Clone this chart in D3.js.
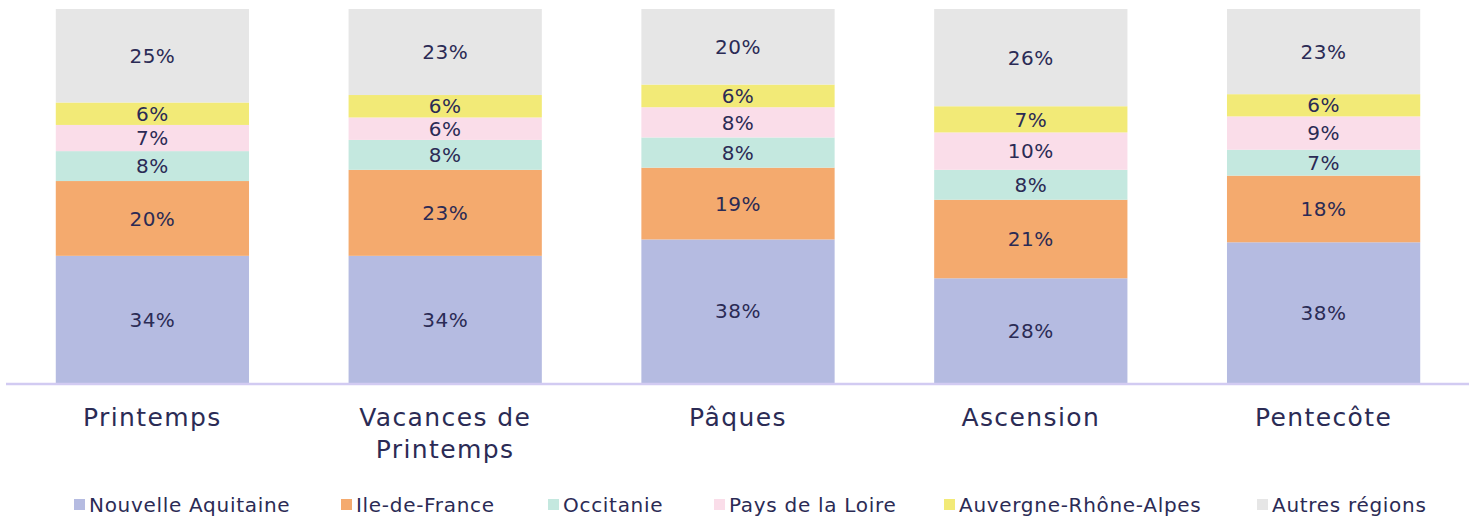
<!DOCTYPE html>
<html>
<head>
<meta charset="utf-8">
<script src="https://cdn.jsdelivr.net/npm/d3@7"></script>
<style>
  body { margin: 0; background: #fff; }
  text { font-family: "DejaVu Sans", sans-serif; fill: #2b2b55; }
</style>
</head>
<body>
<div id="chart"></div>
<script>
var periods = ["Printemps", "Vacances de Printemps", "Pâques", "Ascension", "Pentecôte"];
var regions = ["Nouvelle Aquitaine", "Ile-de-France", "Occitanie", "Pays de la Loire", "Auvergne-Rhône-Alpes", "Autres régions"];

var nouvelleAquitaine = [34, 34, 38, 28, 38],
    ileDeFrance       = [20, 23, 19, 21, 18],
    occitanie         = [8, 8, 8, 8, 7],
    paysDeLaLoire     = [7, 6, 8, 10, 9],
    auvergne          = [6, 6, 6, 7, 6],
    autres            = [25, 23, 20, 26, 23];

var series = [nouvelleAquitaine, ileDeFrance, occitanie, paysDeLaLoire, auvergne, autres];
var colors = ["#b5bbe1", "#f4aa6e", "#c4e8df", "#fadde9", "#f2ea77", "#e6e6e6"];

var width = 1477, height = 521;
var margin = {top: 9, bottom: 138, left: 6, right: 8};
var baseY = height - margin.bottom;

var svg = d3.select("#chart").append("svg")
    .attr("width", width)
    .attr("height", height);

/* build rows for the stack */
var rows = periods.map(function(p, i) {
    var r = {period: p};
    regions.forEach(function(reg, j) { r[reg] = series[j][i]; });
    return r;
});

var stack = d3.stack().keys(regions).offset(d3.stackOffsetExpand);
var layers = stack(rows);

var x = d3.scaleBand().domain(periods).range([6, 1470]).paddingInner(0.34).paddingOuter(0.17);
var y = d3.scaleLinear().domain([0, 1]).range([baseY, margin.top]);

var layer = svg.append("g").selectAll("g")
    .data(layers)
    .enter().append("g")
        .attr("fill", function(d, i) { return colors[i]; });

layer.selectAll("rect")
    .data(function(d) { return d; })
    .enter().append("rect")
        .attr("x", function(d) { return x(d.data.period); })
        .attr("y", function(d) { return y(d[1]); })
        .attr("width", x.bandwidth())
        .attr("height", function(d) { return y(d[0]) - y(d[1]); });

layer.selectAll("text")
    .data(function(d) { return d.map(function(v) { return {v: v, key: d.key}; }); })
    .enter().append("text")
        .attr("x", function(d) { return x(d.v.data.period) + x.bandwidth() / 2; })
        .attr("y", function(d) { return (y(d.v[0]) + y(d.v[1])) / 2; })
        .attr("dy", "0.36em")
        .attr("text-anchor", "middle")
        .attr("font-size", 20)
        .attr("letter-spacing", 0.5)
        .text(function(d) { return d.v.data[d.key] + "%"; });

/* axis line */
svg.append("line")
    .attr("x1", 6).attr("x2", 1469)
    .attr("y1", baseY + 1).attr("y2", baseY + 1)
    .attr("stroke", "#d2cbf2")
    .attr("stroke-width", 2.5);

/* category labels */
var catLines = {"Vacances de Printemps": ["Vacances de", "Printemps"]};
var cat = svg.append("g").selectAll("text")
    .data(periods)
    .enter().append("text")
        .attr("x", function(d) { return x(d) + x.bandwidth() / 2; })
        .attr("y", 426)
        .attr("text-anchor", "middle")
        .attr("font-size", 25)
        .attr("letter-spacing", 1.4);

cat.selectAll("tspan")
    .data(function(d) { return catLines[d] || [d]; })
    .enter().append("tspan")
        .attr("x", function() { return d3.select(this.parentNode).attr("x"); })
        .attr("dy", function(d, i) { return i ? 32 : 0; })
        .text(function(d) { return d; });

/* legend */
var legendX = [74, 341, 548, 714, 944, 1257];
var legend = svg.append("g").selectAll("g")
    .data(regions)
    .enter().append("g")
        .attr("transform", function(d, i) { return "translate(" + legendX[i] + ",505)"; });

legend.append("rect")
    .attr("x", 0).attr("y", -6)
    .attr("width", 11).attr("height", 11)
    .attr("fill", function(d, i) { return colors[i]; });

legend.append("text")
    .attr("x", 15)
    .attr("dy", "0.36em")
    .attr("font-size", 20)
    .attr("letter-spacing", 0.7)
    .text(function(d) { return d; });
</script>
</body>
</html>
